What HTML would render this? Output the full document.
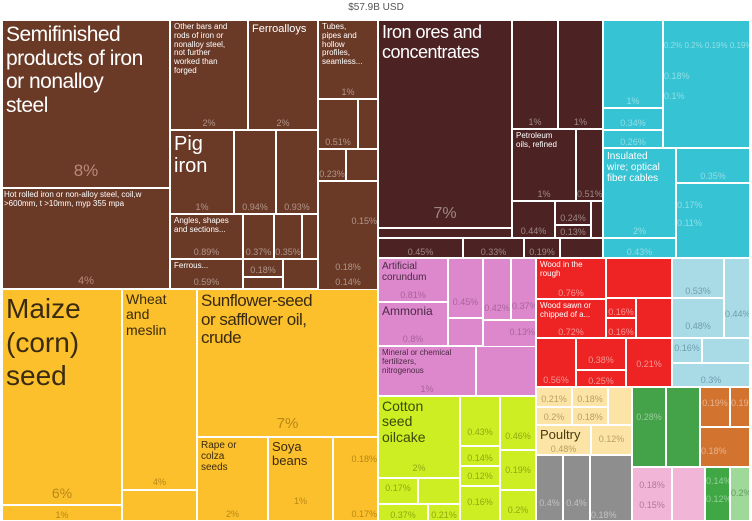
<!DOCTYPE html>
<html><head><meta charset="utf-8"><style>
body{margin:0;width:752px;height:521px;background:#fff;position:relative;overflow:hidden;font-family:"Liberation Sans Narrow","Liberation Sans",sans-serif}
div.b{position:absolute;box-sizing:border-box;border:1px solid #fff;overflow:hidden}
.t{position:absolute;left:3px;top:2px;color:#fff;line-height:1.1;white-space:nowrap}
.big{letter-spacing:-0.5px}
.p{position:absolute;left:0;right:0;text-align:center;color:rgba(255,255,255,.45);font-size:9px}
#title{position:absolute;top:2px;left:0;width:752px;text-align:center;font-size:10px;color:#555}
</style></head><body>
<div id="title">$57.9B USD</div>
<!-- brown -->
<div class="b" style="left:2px;top:20px;width:168px;height:168px;background:#6b3a27"><div class="t big" style="font-size:21px;line-height:1.12">Semifinished<br>products of iron<br>or nonalloy<br>steel</div><div class="p" style="bottom:6px;font-size:17px;color:#b9897a">8%</div></div>
<div class="b" style="left:2px;top:188px;width:168px;height:101px;background:#6b3a27"><div class="t" style="font-size:8px;left:1px">Hot rolled iron or non-alloy steel, coil,w<br>&gt;600mm, t &gt;10mm, myp 355 mpa</div><div class="p" style="bottom:1px;font-size:11px;color:#b9897a">4%</div></div>
<div class="b" style="left:170px;top:20px;width:78px;height:110px;background:#6b3a27"><div class="t" style="font-size:8px">Other bars and<br>rods of iron or<br>nonalloy steel,<br>not further<br>worked than<br>forged</div><div class="p" style="bottom:1px">2%</div></div>
<div class="b" style="left:248px;top:20px;width:70px;height:110px;background:#6b3a27"><div class="t" style="font-size:11px">Ferroalloys</div><div class="p" style="bottom:1px">2%</div></div>
<div class="b" style="left:318px;top:20px;width:60px;height:79px;background:#6b3a27"><div class="t" style="font-size:8px">Tubes,<br>pipes and<br>hollow<br>profiles,<br>seamless...</div><div class="p" style="bottom:1px">1%</div></div>
<div class="b" style="left:318px;top:99px;width:40px;height:50px;background:#6b3a27"><div class="p" style="bottom:1px">0.51%</div></div>
<div class="b" style="left:358px;top:99px;width:20px;height:50px;background:#6b3a27"></div>
<div class="b" style="left:318px;top:149px;width:28px;height:32px;background:#6b3a27"><div class="p" style="bottom:1px">0.23%</div></div>
<div class="b" style="left:346px;top:149px;width:32px;height:32px;background:#6b3a27"></div>
<div class="b" style="left:318px;top:181px;width:60px;height:110px;background:#6b3a27"><div class="p" style="top:34px;text-align:right">0.15%</div><div class="p" style="top:80px">0.18%</div><div class="p" style="top:95px">0.14%</div></div>
<div class="b" style="left:170px;top:130px;width:64px;height:84px;background:#6b3a27"><div class="t" style="font-size:20px">Pig<br>iron</div><div class="p" style="bottom:1px">1%</div></div>
<div class="b" style="left:234px;top:130px;width:42px;height:84px;background:#6b3a27"><div class="p" style="bottom:1px">0.94%</div></div>
<div class="b" style="left:276px;top:130px;width:42px;height:84px;background:#6b3a27"><div class="p" style="bottom:1px">0.93%</div></div>
<div class="b" style="left:170px;top:214px;width:73px;height:45px;background:#6b3a27"><div class="t" style="font-size:8px">Angles, shapes<br>and sections...</div><div class="p" style="bottom:1px">0.89%</div></div>
<div class="b" style="left:243px;top:214px;width:31px;height:45px;background:#6b3a27"><div class="p" style="bottom:1px">0.37%</div></div>
<div class="b" style="left:274px;top:214px;width:28px;height:45px;background:#6b3a27"><div class="p" style="bottom:1px">0.35%</div></div>
<div class="b" style="left:302px;top:214px;width:16px;height:45px;background:#6b3a27"></div>
<div class="b" style="left:170px;top:259px;width:73px;height:30px;background:#6b3a27"><div class="t" style="font-size:8px">Ferrous...</div><div class="p" style="bottom:1px">0.59%</div></div>
<div class="b" style="left:243px;top:259px;width:40px;height:18px;background:#6b3a27"><div class="p" style="bottom:1px">0.18%</div></div>
<div class="b" style="left:243px;top:277px;width:40px;height:12px;background:#6b3a27"></div>
<div class="b" style="left:283px;top:259px;width:35px;height:30px;background:#6b3a27"></div>
<!-- dark -->
<div class="b" style="left:378px;top:20px;width:134px;height:208px;background:#4c2222"><div class="t big" style="font-size:18px">Iron ores and<br>concentrates</div><div class="p" style="bottom:4px;font-size:16px">7%</div></div>
<div class="b" style="left:378px;top:228px;width:134px;height:10px;background:#4c2222"></div>
<div class="b" style="left:378px;top:238px;width:85px;height:20px;background:#4c2222"><div class="p" style="bottom:0">0.45%</div></div>
<div class="b" style="left:463px;top:238px;width:61px;height:20px;background:#4c2222"><div class="p" style="bottom:0">0.33%</div></div>
<div class="b" style="left:524px;top:238px;width:36px;height:20px;background:#4c2222"><div class="p" style="bottom:0">0.19%</div></div>
<div class="b" style="left:560px;top:238px;width:43px;height:20px;background:#4c2222"></div>
<div class="b" style="left:512px;top:20px;width:46px;height:109px;background:#4c2222"><div class="p" style="bottom:1px">1%</div></div>
<div class="b" style="left:558px;top:20px;width:45px;height:109px;background:#4c2222"><div class="p" style="bottom:1px">1%</div></div>
<div class="b" style="left:512px;top:129px;width:64px;height:72px;background:#4c2222"><div class="t" style="font-size:8px">Petroleum<br>oils, refined</div><div class="p" style="bottom:1px">1%</div></div>
<div class="b" style="left:576px;top:129px;width:27px;height:72px;background:#4c2222"><div class="p" style="bottom:1px">0.51%</div></div>
<div class="b" style="left:512px;top:201px;width:43px;height:37px;background:#4c2222"><div class="p" style="bottom:1px">0.44%</div></div>
<div class="b" style="left:555px;top:201px;width:36px;height:24px;background:#4c2222"><div class="p" style="bottom:1px">0.24%</div></div>
<div class="b" style="left:555px;top:225px;width:36px;height:13px;background:#4c2222"><div class="p" style="bottom:0">0.13%</div></div>
<div class="b" style="left:591px;top:201px;width:12px;height:37px;background:#4c2222"></div>
<!-- cyan -->
<div class="b" style="left:603px;top:20px;width:60px;height:88px;background:#36c3d3"><div class="p" style="bottom:1px">1%</div></div>
<div class="b" style="left:603px;top:108px;width:60px;height:22px;background:#36c3d3"><div class="p" style="bottom:1px">0.34%</div></div>
<div class="b" style="left:603px;top:130px;width:60px;height:18px;background:#36c3d3"><div class="p" style="bottom:0">0.26%</div></div>
<div class="b" style="left:663px;top:20px;width:87px;height:128px;background:#36c3d3"><div class="p" style="top:20px;white-space:nowrap;font-size:8px">0.2% 0.2% 0.19% 0.19%</div><div class="p" style="top:50px;text-align:left">0.18%</div><div class="p" style="top:70px;text-align:left">0.1%</div></div>
<div class="b" style="left:603px;top:148px;width:73px;height:90px;background:#36c3d3"><div class="t" style="font-size:10px">Insulated<br>wire; optical<br>fiber cables</div><div class="p" style="bottom:1px">2%</div></div>
<div class="b" style="left:603px;top:238px;width:73px;height:20px;background:#36c3d3"><div class="p" style="bottom:0">0.43%</div></div>
<div class="b" style="left:676px;top:148px;width:74px;height:35px;background:#36c3d3"><div class="p" style="bottom:1px">0.35%</div></div>
<div class="b" style="left:676px;top:183px;width:74px;height:75px;background:#36c3d3"><div class="p" style="top:16px;text-align:left">0.17%</div><div class="p" style="top:34px;text-align:left">0.11%</div></div>
<!-- yellow -->
<div class="b" style="left:2px;top:289px;width:120px;height:216px;background:#fbc02b"><div class="t" style="font-size:28px;color:#3a2a10;line-height:1.2">Maize<br>(corn)<br>seed</div><div class="p" style="bottom:3px;font-size:14px;color:rgba(120,80,0,.5)">6%</div></div>
<div class="b" style="left:2px;top:505px;width:120px;height:16px;background:#fbc02b"><div class="p" style="bottom:0;color:rgba(120,80,0,.5)">1%</div></div>
<div class="b" style="left:122px;top:289px;width:75px;height:201px;background:#fbc02b"><div class="t" style="font-size:14px;color:#3a2a10">Wheat<br>and<br>meslin</div><div class="p" style="bottom:2px;color:rgba(120,80,0,.5)">4%</div></div>
<div class="b" style="left:122px;top:490px;width:75px;height:31px;background:#fbc02b"></div>
<div class="b" style="left:197px;top:289px;width:181px;height:148px;background:#fbc02b"><div class="t big" style="font-size:17px;color:#3a2a10">Sunflower-seed<br>or safflower oil,<br>crude</div><div class="p" style="bottom:4px;font-size:15px;color:rgba(120,80,0,.5)">7%</div></div>
<div class="b" style="left:197px;top:437px;width:71px;height:84px;background:#fbc02b"><div class="t" style="font-size:10px;color:#3a2a10">Rape or<br>colza<br>seeds</div><div class="p" style="bottom:1px;color:rgba(120,80,0,.5)">2%</div></div>
<div class="b" style="left:268px;top:437px;width:65px;height:84px;background:#fbc02b"><div class="t" style="font-size:13px;color:#3a2a10">Soya<br>beans</div><div class="p" style="bottom:14px;color:rgba(120,80,0,.5)">1%</div></div>
<div class="b" style="left:333px;top:437px;width:45px;height:84px;background:#fbc02b"><div class="p" style="top:16px;text-align:right;color:rgba(120,80,0,.5)">0.18%</div><div class="p" style="bottom:1px;text-align:right;color:rgba(120,80,0,.5)">0.17%</div></div>
<!-- pink -->
<div class="b" style="left:378px;top:258px;width:70px;height:44px;background:#dd88cc"><div class="t" style="font-size:10px;color:#4a2a44">Artificial<br>corundum</div><div class="p" style="bottom:1px;color:rgba(90,40,80,.4)">0.81%</div></div>
<div class="b" style="left:378px;top:302px;width:70px;height:44px;background:#dd88cc"><div class="t" style="font-size:12px;color:#4a2a44">Ammonia</div><div class="p" style="bottom:1px;color:rgba(90,40,80,.4)">0.8%</div></div>
<div class="b" style="left:378px;top:346px;width:98px;height:50px;background:#dd88cc"><div class="t" style="font-size:8px;color:#4a2a44">Mineral or chemical<br>fertilizers,<br>nitrogenous</div><div class="p" style="bottom:1px;color:rgba(90,40,80,.4)">1%</div></div>
<div class="b" style="left:448px;top:258px;width:35px;height:60px;background:#dd88cc"><div class="p" style="top:38px;color:rgba(90,40,80,.4)">0.45%</div></div>
<div class="b" style="left:483px;top:258px;width:28px;height:62px;background:#dd88cc"><div class="p" style="top:44px;color:rgba(90,40,80,.4)">0.42%</div></div>
<div class="b" style="left:511px;top:258px;width:25px;height:62px;background:#dd88cc"><div class="p" style="top:42px;color:rgba(90,40,80,.4)">0.37%</div></div>
<div class="b" style="left:448px;top:318px;width:35px;height:28px;background:#dd88cc"></div>
<div class="b" style="left:483px;top:320px;width:53px;height:42px;background:#dd88cc"><div class="p" style="top:6px;text-align:right;color:rgba(90,40,80,.4)">0.13%</div></div>
<div class="b" style="left:476px;top:346px;width:60px;height:50px;background:#dd88cc"></div>
<!-- red -->
<div class="b" style="left:536px;top:258px;width:70px;height:41px;background:#ee2424"><div class="t" style="font-size:8px">Wood in the<br>rough</div><div class="p" style="bottom:0;color:rgba(255,255,255,.5)">0.76%</div></div>
<div class="b" style="left:536px;top:299px;width:70px;height:39px;background:#ee2424"><div class="t" style="font-size:8px">Wood sawn or<br>chipped of a...</div><div class="p" style="bottom:0;color:rgba(255,255,255,.5)">0.72%</div></div>
<div class="b" style="left:606px;top:258px;width:66px;height:40px;background:#ee2424"></div>
<div class="b" style="left:606px;top:298px;width:30px;height:20px;background:#ee2424"><div class="p" style="bottom:0;color:rgba(255,255,255,.5)">0.16%</div></div>
<div class="b" style="left:606px;top:318px;width:30px;height:20px;background:#ee2424"><div class="p" style="bottom:0;color:rgba(255,255,255,.5)">0.16%</div></div>
<div class="b" style="left:636px;top:298px;width:36px;height:40px;background:#ee2424"></div>
<div class="b" style="left:536px;top:338px;width:40px;height:49px;background:#ee2424"><div class="p" style="bottom:1px;color:rgba(255,255,255,.5)">0.56%</div></div>
<div class="b" style="left:576px;top:338px;width:50px;height:32px;background:#ee2424"><div class="p" style="bottom:4px;color:rgba(255,255,255,.5)">0.38%</div></div>
<div class="b" style="left:576px;top:370px;width:50px;height:17px;background:#ee2424"><div class="p" style="bottom:0;color:rgba(255,255,255,.5)">0.25%</div></div>
<div class="b" style="left:626px;top:338px;width:46px;height:49px;background:#ee2424"><div class="p" style="top:20px;color:rgba(255,255,255,.5)">0.21%</div></div>
<!-- light blue -->
<div class="b" style="left:672px;top:258px;width:52px;height:40px;background:#a9dbe7"><div class="p" style="bottom:1px;color:rgba(40,80,100,.45)">0.53%</div></div>
<div class="b" style="left:672px;top:298px;width:52px;height:40px;background:#a9dbe7"><div class="p" style="bottom:6px;color:rgba(40,80,100,.45)">0.48%</div></div>
<div class="b" style="left:724px;top:258px;width:26px;height:80px;background:#a9dbe7"><div class="p" style="top:50px;color:rgba(40,80,100,.45)">0.44%</div></div>
<div class="b" style="left:672px;top:338px;width:30px;height:25px;background:#a9dbe7"><div class="p" style="top:4px;color:rgba(40,80,100,.45)">0.16%</div></div>
<div class="b" style="left:702px;top:338px;width:48px;height:25px;background:#a9dbe7"></div>
<div class="b" style="left:672px;top:363px;width:78px;height:24px;background:#a9dbe7"><div class="p" style="bottom:1px;color:rgba(40,80,100,.45)">0.3%</div></div>
<!-- cotton -->
<div class="b" style="left:378px;top:396px;width:82px;height:82px;background:#ccee22"><div class="t" style="font-size:14px;color:#3a4a08">Cotton<br>seed<br>oilcake</div><div class="p" style="bottom:4px;color:rgba(80,100,0,.5)">2%</div></div>
<div class="b" style="left:378px;top:478px;width:40px;height:26px;background:#ccee22"><div class="p" style="top:4px;color:rgba(80,100,0,.5)">0.17%</div></div>
<div class="b" style="left:418px;top:478px;width:42px;height:26px;background:#ccee22"></div>
<div class="b" style="left:378px;top:504px;width:50px;height:17px;background:#ccee22"><div class="p" style="bottom:0;color:rgba(80,100,0,.5)">0.37%</div></div>
<div class="b" style="left:428px;top:504px;width:32px;height:17px;background:#ccee22"><div class="p" style="bottom:0;color:rgba(80,100,0,.5)">0.21%</div></div>
<div class="b" style="left:460px;top:396px;width:40px;height:50px;background:#ccee22"><div class="p" style="top:30px;color:rgba(80,100,0,.5)">0.43%</div></div>
<div class="b" style="left:500px;top:396px;width:36px;height:54px;background:#ccee22"><div class="p" style="top:34px;color:rgba(80,100,0,.5)">0.46%</div></div>
<div class="b" style="left:460px;top:446px;width:40px;height:20px;background:#ccee22"><div class="p" style="top:6px;color:rgba(80,100,0,.5)">0.14%</div></div>
<div class="b" style="left:460px;top:466px;width:40px;height:20px;background:#ccee22"><div class="p" style="top:4px;color:rgba(80,100,0,.5)">0.12%</div></div>
<div class="b" style="left:460px;top:486px;width:40px;height:35px;background:#ccee22"><div class="p" style="top:10px;color:rgba(80,100,0,.5)">0.16%</div></div>
<div class="b" style="left:500px;top:450px;width:36px;height:40px;background:#ccee22"><div class="p" style="top:14px;color:rgba(80,100,0,.5)">0.19%</div></div>
<div class="b" style="left:500px;top:490px;width:36px;height:31px;background:#ccee22"><div class="p" style="top:14px;color:rgba(80,100,0,.5)">0.2%</div></div>
<!-- poultry -->
<div class="b" style="left:536px;top:387px;width:36px;height:20px;background:#fbe4a6"><div class="p" style="top:6px;color:rgba(120,90,30,.5)">0.21%</div></div>
<div class="b" style="left:572px;top:387px;width:36px;height:20px;background:#fbe4a6"><div class="p" style="top:6px;color:rgba(120,90,30,.5)">0.18%</div></div>
<div class="b" style="left:536px;top:407px;width:36px;height:18px;background:#fbe4a6"><div class="p" style="top:4px;color:rgba(120,90,30,.5)">0.2%</div></div>
<div class="b" style="left:572px;top:407px;width:36px;height:18px;background:#fbe4a6"><div class="p" style="top:4px;color:rgba(120,90,30,.5)">0.18%</div></div>
<div class="b" style="left:608px;top:387px;width:24px;height:38px;background:#fbe4a6"></div>
<div class="b" style="left:536px;top:425px;width:55px;height:30px;background:#fbe4a6"><div class="t" style="font-size:13px;color:#4a3a10">Poultry</div><div class="p" style="bottom:0;color:rgba(120,90,30,.5)">0.48%</div></div>
<div class="b" style="left:591px;top:425px;width:41px;height:30px;background:#fbe4a6"><div class="p" style="top:8px;color:rgba(120,90,30,.5)">0.12%</div></div>
<!-- gray -->
<div class="b" style="left:536px;top:455px;width:27px;height:66px;background:#8e8e8e"><div class="p" style="bottom:12px">0.4%</div></div>
<div class="b" style="left:563px;top:455px;width:27px;height:66px;background:#8e8e8e"><div class="p" style="bottom:12px">0.4%</div></div>
<div class="b" style="left:590px;top:455px;width:42px;height:66px;background:#8e8e8e"><div class="p" style="bottom:0;text-align:left">0.18%</div></div>
<!-- green / orange -->
<div class="b" style="left:632px;top:387px;width:34px;height:80px;background:#44a249"><div class="p" style="top:24px">0.28%</div></div>
<div class="b" style="left:666px;top:387px;width:34px;height:80px;background:#44a249"></div>
<div class="b" style="left:700px;top:387px;width:30px;height:40px;background:#d2732f"><div class="p" style="top:10px">0.19%</div></div>
<div class="b" style="left:730px;top:387px;width:20px;height:40px;background:#d2732f"><div class="p" style="top:10px">0.19%</div></div>
<div class="b" style="left:700px;top:427px;width:50px;height:40px;background:#d2732f"><div class="p" style="top:18px;text-align:left">0.18%</div></div>
<div class="b" style="left:632px;top:467px;width:40px;height:54px;background:#f0b5d7"><div class="p" style="top:12px;color:rgba(120,60,90,.5)">0.18%</div><div class="p" style="top:32px;color:rgba(120,60,90,.5)">0.15%</div></div>
<div class="b" style="left:672px;top:467px;width:33px;height:54px;background:#f0b5d7"></div>
<div class="b" style="left:705px;top:467px;width:25px;height:54px;background:#3fa844"><div class="p" style="top:8px">0.14%</div><div class="p" style="top:26px">0.12%</div></div>
<div class="b" style="left:730px;top:467px;width:20px;height:54px;background:#9fd99a"><div class="p" style="top:20px;color:rgba(40,90,40,.5)">0.2%</div></div>
</body></html>
